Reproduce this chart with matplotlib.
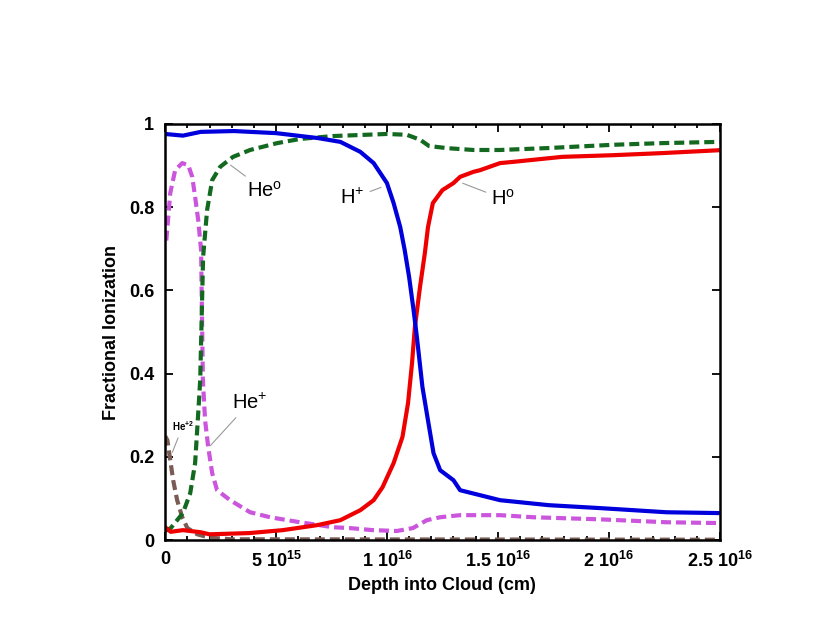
import numpy as np
import matplotlib.pyplot as plt
from matplotlib.ticker import FixedLocator, MultipleLocator

plt.rcParams['font.family'] = ['Liberation Sans', 'DejaVu Sans']
plt.rcParams['mathtext.fontset'] = 'custom'
plt.rcParams['mathtext.rm'] = 'Liberation Sans'
plt.rcParams['mathtext.bf'] = 'Liberation Sans:bold'

# depth in units of 1e15 cm
h_plus_x = [0, 0.8, 1.6, 3.1, 5.0, 6.9, 7.9, 8.8, 9.4, 10.0, 10.3, 10.6, 10.8, 11.0,
            11.2, 11.35, 11.6, 11.85, 12.1, 12.4, 13.0, 13.3, 14.2, 15.1, 17.3, 19.6,
            22.6, 25.0]
h_plus_y = [0.976, 0.972, 0.981, 0.983, 0.978, 0.966, 0.957, 0.933, 0.906, 0.858,
            0.81, 0.752, 0.697, 0.632, 0.553, 0.488, 0.368, 0.288, 0.209, 0.168, 0.144,
            0.12, 0.108, 0.096, 0.084, 0.077, 0.067, 0.065]

h0_x = [0, 0.25, 0.8, 1.6, 2.0, 3.8, 5.3, 6.85, 7.9, 8.8, 9.4, 9.8, 10.3, 10.7, 10.95,
        11.13, 11.26, 11.49, 11.71, 11.85, 12.07, 12.5, 13.0, 13.3, 13.9, 14.2, 15.1,
        15.7, 17.9, 20.2, 22.4, 25.0]
h0_y = [0.031, 0.02, 0.024, 0.019, 0.014, 0.017, 0.024, 0.036, 0.048, 0.072, 0.096,
        0.127, 0.185, 0.248, 0.329, 0.425, 0.512, 0.608, 0.69, 0.752, 0.81, 0.841,
        0.858, 0.873, 0.885, 0.889, 0.906, 0.909, 0.921, 0.925, 0.93, 0.937]

he0_x = [0, 0.25, 0.8, 1.13, 1.35, 1.49, 1.58, 1.71, 1.89, 2.12, 2.48, 3.06, 3.83,
         5.05, 6.08, 7.57, 10.0, 10.9, 11.5, 11.9, 12.7, 13.9, 15.1, 17.2, 20.2, 22.4,
         25.0]
he0_y = [0.022, 0.029, 0.065, 0.113, 0.185, 0.305, 0.385, 0.68, 0.793, 0.865, 0.897,
         0.921, 0.9375, 0.954, 0.964, 0.971, 0.976, 0.974, 0.962, 0.947, 0.942, 0.9375,
         0.9375, 0.942, 0.95, 0.954, 0.957]

he_plus_x = [0.05, 0.23, 0.45, 0.77, 1.04, 1.22, 1.35, 1.49, 1.62, 1.7, 1.8, 1.94,
             2.12, 2.34, 2.93, 3.83, 4.73, 6.08, 7.57, 8.33, 9.37, 10.45, 11.17, 11.8,
             12.4, 13.3, 15.1, 16.6, 19.6, 22.6, 25.0]
he_plus_y = [0.72, 0.834, 0.889, 0.906, 0.901, 0.873, 0.825, 0.769, 0.697, 0.385,
             0.288, 0.224, 0.161, 0.12, 0.096, 0.067, 0.055, 0.043, 0.031, 0.029, 0.024,
             0.022, 0.029, 0.048, 0.055, 0.06, 0.06, 0.055, 0.05, 0.043, 0.041]

he2_x = [0, 0.1, 0.23, 0.36, 0.54, 0.77, 1.0, 1.45, 2.0, 3.0, 25.0]
he2_y = [0.25, 0.24, 0.192, 0.144, 0.096, 0.055, 0.029, 0.014, 0.006, 0.002, 0.001]

tick_vals = [0, 5, 10, 15, 20, 25]
tick_labels = ['0', r'5 10$^{\mathbf{15}}$', r'1 10$^{\mathbf{16}}$',
               r'1.5 10$^{\mathbf{16}}$', r'2 10$^{\mathbf{16}}$', r'2.5 10$^{\mathbf{16}}$']


def main():
    fig = plt.figure(figsize=(8.3, 6.23), dpi=100)
    ax = fig.add_axes([0.199, 0.133, 0.668, 0.668])

    dash = (2.4, 1.2)
    lw = 3.0
    ax.plot(he2_x, he2_y, color='#7a5c55', lw=lw, dashes=dash)
    ax.plot(he_plus_x, he_plus_y, color='#cc55dd', lw=lw, dashes=dash)
    ax.plot(he0_x, he0_y, color='#13691f', lw=lw, dashes=dash)
    ax.plot(h0_x, h0_y, color='#ee0000', lw=lw)
    ax.plot(h_plus_x, h_plus_y, color='#0000dd', lw=lw)

    ax.set_xlim(0, 25)
    ax.set_ylim(0, 1)
    ax.xaxis.set_major_locator(FixedLocator(tick_vals))
    ax.set_xticklabels(tick_labels)
    ax.xaxis.set_minor_locator(MultipleLocator(1))
    ax.set_yticks([0, 0.2, 0.4, 0.6, 0.8, 1])
    ax.set_yticklabels(['0', '0.2', '0.4', '0.6', '0.8', '1'])

    ax.tick_params(which='both', direction='in', top=True, right=True, width=1.3,
                   labelsize=13, pad=8)
    ax.tick_params(which='major', length=6)
    ax.tick_params(which='minor', length=3)
    for lab in ax.get_xticklabels() + ax.get_yticklabels():
        lab.set_fontweight('bold')
    for s in ax.spines.values():
        s.set_linewidth(1.8)

    ax.set_xlabel('Depth into Cloud (cm)', fontsize=13, fontweight='bold', labelpad=4)
    ax.set_ylabel('Fractional Ionization', fontsize=13, fontweight='bold', labelpad=6)

    # labels with thin leader lines
    lead = dict(arrowstyle='-', color='#999999', lw=0.8)
    ax.annotate(r'He$^{\mathrm{o}}$', xy=(2.85, 0.905), xytext=(3.7, 0.84),
                fontsize=14.5, arrowprops=lead, va='center')
    ax.annotate(r'H$^{+}$', xy=(9.85, 0.85), xytext=(7.9, 0.822),
                fontsize=14.5, arrowprops=lead, va='center')
    ax.annotate(r'H$^{\mathrm{o}}$', xy=(13.3, 0.86), xytext=(14.7, 0.82),
                fontsize=14.5, arrowprops=lead, va='center')
    ax.annotate(r'He$^{+}$', xy=(1.95, 0.222), xytext=(3.0, 0.33),
                fontsize=14.5, arrowprops=lead, va='center')
    ax.annotate(r'He$^{\mathbf{+2}}$', xy=(0.28, 0.205), xytext=(0.3, 0.275),
                fontsize=7, fontweight='bold', arrowprops=lead, va='center')

    fig.savefig('out.png', dpi=100)


if __name__ == '__main__':
    main()
